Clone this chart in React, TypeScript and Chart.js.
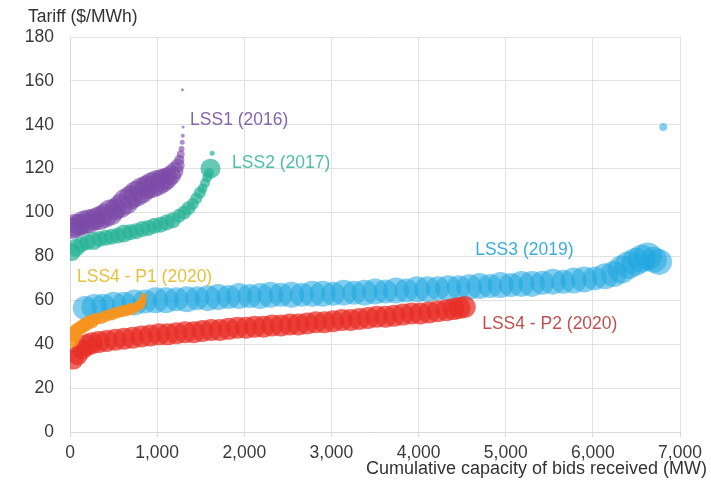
import React, { useEffect, useRef } from "react";
import { Chart, registerables } from "chart.js";

Chart.register(...registerables);

// LSS1 (2016)
const lss1X = [20, 60, 110, 160, 220, 280, 340, 400, 460, 520, 580, 640, 700, 760, 820, 880, 940, 1000, 1060, 1110, 1160, 1200, 1235, 1255, 1270, 1280, 1288, 1294, 1298, 1290];
const lss1Y = [93, 94, 94.5, 95.5, 96, 97, 97.5, 98.5, 100, 101.5, 103, 105, 107, 108.5, 110, 111.5, 112.5, 113.5, 114.5, 115.5, 117, 119, 121.5, 124, 126.5, 129, 132, 135, 139, 156];
const lss1R = [11, 12, 11, 12, 12, 11, 12, 12, 13, 11, 12, 13, 12, 13, 13, 12, 13, 13, 12, 11, 10, 9, 7, 5, 4, 3, 2.5, 2, 1.5, 1.5];

// LSS2 (2017)
const lss2X = [20, 70, 130, 200, 270, 340, 410, 480, 550, 620, 690, 760, 830, 900, 970, 1040, 1110, 1180, 1250, 1310, 1360, 1410, 1450, 1490, 1520, 1550, 1575, 1595, 1612, 1632];
const lss2Y = [82, 84, 85.5, 86.5, 87, 88, 88.5, 89, 89.5, 90.5, 91, 91.5, 92.5, 93, 94, 94.5, 95.5, 96.5, 98.5, 100, 102, 104, 106.5, 109, 111, 113.5, 116, 118, 120, 127];
const lss2R = [9, 9, 8, 8, 9, 8, 8, 8, 8, 9, 8, 8, 8, 8, 8, 8, 8, 8, 7, 7, 7, 6, 6, 6, 5, 5, 5, 5, 10, 2.5];

// LSS3 (2019)
const lss3X = [170, 280, 380, 500, 620, 740, 860, 980, 1100, 1220, 1340, 1460, 1580, 1700, 1820, 1940, 2060, 2180, 2300, 2420, 2540, 2660, 2780, 2900, 3020, 3140, 3260, 3380, 3500, 3620, 3740, 3860, 3980, 4100, 4220, 4340, 4460, 4580, 4700, 4820, 4940, 5060, 5180, 5300, 5420, 5540, 5660, 5780, 5900, 6020, 6140, 6240, 6330, 6410, 6490, 6560, 6630, 6700, 6760, 6808];
const lss3Y = [56.5, 57, 57.5, 58, 58.5, 59, 59.5, 60, 60, 60.5, 60.5, 61, 61, 61.5, 61.5, 62, 62, 62, 62.5, 62.5, 62.5, 62.5, 63, 63, 63, 63.5, 63.5, 63.5, 64, 64, 64.5, 64.5, 65, 65, 65.5, 65.5, 66, 66, 66.5, 66.5, 67, 67, 67.5, 67.5, 68, 68.5, 68.5, 69, 69.5, 70, 71, 72, 74, 76, 77.5, 79, 80, 78.5, 77.5, 139];
const lss3R = [12, 13, 12, 13, 12, 13, 12, 13, 13, 12, 13, 12, 13, 13, 12, 13, 12, 13, 13, 12, 13, 12, 13, 13, 12, 13, 12, 13, 13, 12, 13, 12, 13, 13, 12, 13, 12, 13, 13, 12, 13, 12, 13, 13, 12, 13, 12, 13, 13, 12, 13, 13, 14, 14, 14, 14, 14, 13, 13, 4];

// LSS4 - P1 (2020)
const p1X = [15, 45, 80, 120, 160, 200, 250, 300, 360, 420, 480, 540, 600, 650, 700, 745, 785, 815, 835, 845];
const p1Y = [42, 44.5, 46.5, 47.5, 48.5, 49.5, 50.5, 51.5, 52, 53, 53.5, 54.5, 55, 55.5, 56, 56.5, 57.5, 58.5, 60, 62];
const p1R = [8, 8, 7, 7, 7, 7, 7, 6, 6, 6, 6, 6, 6, 6, 6, 5, 5, 5, 4, 3];

// LSS4 - P2 (2020)
const p2X = [40, 90, 140, 190, 250, 330, 420, 520, 620, 720, 820, 920, 1020, 1120, 1220, 1320, 1420, 1520, 1620, 1720, 1820, 1920, 2020, 2120, 2220, 2320, 2420, 2520, 2620, 2720, 2820, 2920, 3020, 3120, 3220, 3320, 3420, 3520, 3620, 3720, 3820, 3920, 4020, 4120, 4220, 4320, 4400, 4470, 4530];
const p2Y = [33, 35, 37.5, 39.5, 40.5, 41, 41.5, 42, 42.5, 43, 43.5, 44, 44.5, 44.5, 45, 45.5, 45.5, 46, 46.5, 46.5, 47, 47.5, 47.5, 48, 48, 48.5, 48.5, 49, 49, 49.5, 50, 50, 50.5, 51, 51, 51.5, 52, 52.5, 52.5, 53, 53.5, 54, 54, 54.5, 55, 55.5, 56, 56.5, 57];
const p2R = [10, 10, 10, 11, 11, 11, 11, 11, 11, 11, 11, 11, 11, 11, 11, 11, 11, 11, 11, 11, 11, 11, 11, 11, 11, 11, 11, 11, 11, 11, 11, 11, 11, 11, 11, 11, 11, 11, 11, 11, 11, 11, 11, 11, 11, 11, 11, 11, 11];

// Series labels: text and anchor in data coordinates
const seriesLabels = ["LSS1 (2016)", "LSS2 (2017)", "LSS3 (2019)", "LSS4 - P1 (2020)", "LSS4 - P2 (2020)"];
const labelX = [1378, 1860, 4650, 80, 4730];
const labelY = [142.3, 122.6, 83, 70.6, 49.2];
const labelColors = ["#8466a8", "#4dbfa6", "#3aaedb", "#e6c23c", "#c0504d"];

const xTicks = [0, 1000, 2000, 3000, 4000, 5000, 6000, 7000];
const yTicks = [0, 20, 40, 60, 80, 100, 120, 140, 160, 180];

const FONT = "'Liberation Sans', Arial, sans-serif";

function pts(xs: number[], ys: number[], rs: number[]) {
  return xs.map((x, i) => ({ x, y: ys[i], r: rs[i] }));
}

export default function App() {
  const ref = useRef<HTMLCanvasElement | null>(null);

  useEffect(() => {
    if (!ref.current) return;
    const labelPlugin = {
      id: "seriesLabels",
      afterDatasetsDraw(chart: any) {
        const { ctx, scales, chartArea } = chart;
        ctx.save();
        ctx.font = `17.5px ${FONT}`;
        ctx.textBaseline = "middle";
        ctx.textAlign = "left";
        seriesLabels.forEach((t, i) => {
          ctx.fillStyle = labelColors[i];
          ctx.fillText(t, scales.x.getPixelForValue(labelX[i]), scales.y.getPixelForValue(labelY[i]));
        });
        ctx.fillStyle = "#333333";
        ctx.textAlign = "left";
        ctx.fillText("Tariff ($/MWh)", chartArea.left - 42, chartArea.top - 20);
        ctx.font = `18px ${FONT}`;
        ctx.textAlign = "right";
        ctx.fillText("Cumulative capacity of bids received (MW)", chartArea.right + 27, chartArea.bottom + 37);
        ctx.restore();
      },
    };

    const chart = new Chart(ref.current, {
      type: "bubble",
      data: {
        datasets: [
          { label: "LSS4 - P1 (2020)", data: pts(p1X, p1Y, p1R), backgroundColor: "rgba(247,148,29,0.85)", borderWidth: 0 },
          { label: "LSS4 - P2 (2020)", data: pts(p2X, p2Y, p2R), backgroundColor: "rgba(232,44,36,0.72)", borderWidth: 0 },
          { label: "LSS3 (2019)", data: pts(lss3X, lss3Y, lss3R), backgroundColor: "rgba(30,166,224,0.55)", borderWidth: 0 },
          { label: "LSS2 (2017)", data: pts(lss2X, lss2Y, lss2R), backgroundColor: "rgba(38,178,150,0.7)", borderWidth: 0 },
          { label: "LSS1 (2016)", data: pts(lss1X, lss1Y, lss1R), backgroundColor: "rgba(122,72,166,0.62)", borderWidth: 0 },
        ],
      },
      options: {
        animation: false,
        responsive: true,
        maintainAspectRatio: false,
        layout: { padding: { left: 0, top: 37, right: 31, bottom: 0 } },
        plugins: { legend: { display: false }, tooltip: { enabled: false } },
        scales: {
          x: {
            type: "linear",
            min: 0,
            max: 7000,
            afterBuildTicks: (s: any) => { s.ticks = xTicks.map((v) => ({ value: v })); },
            afterFit: (s: any) => { s.height = 51; },
            grid: { color: "#e2e2e2", drawTicks: true, tickLength: 5, tickColor: "#dcdcdc" },
            border: { color: "#d8d8d8" },
            ticks: {
              padding: 6,
              maxRotation: 0,
              autoSkip: false,
              color: "#3a3a3a",
              font: { family: FONT, size: 17.5 },
              callback: (v: any) => Number(v).toLocaleString("en-US"),
            },
          },
          y: {
            type: "linear",
            min: 0,
            max: 180,
            afterBuildTicks: (s: any) => { s.ticks = yTicks.map((v) => ({ value: v })); },
            afterFit: (s: any) => { s.width = 70; },
            grid: { color: "#e2e2e2", drawTicks: false },
            border: { color: "#d8d8d8" },
            ticks: {
              padding: 16,
              color: "#3a3a3a",
              font: { family: FONT, size: 17.5 },
            },
          },
        },
      },
      plugins: [labelPlugin],
    } as any);
    return () => chart.destroy();
  }, []);

  return (
    <div style={{ position: "absolute", left: 0, top: 0, width: 711, height: 483, background: "#fff" }}>
      <canvas ref={ref} />
    </div>
  );
}
